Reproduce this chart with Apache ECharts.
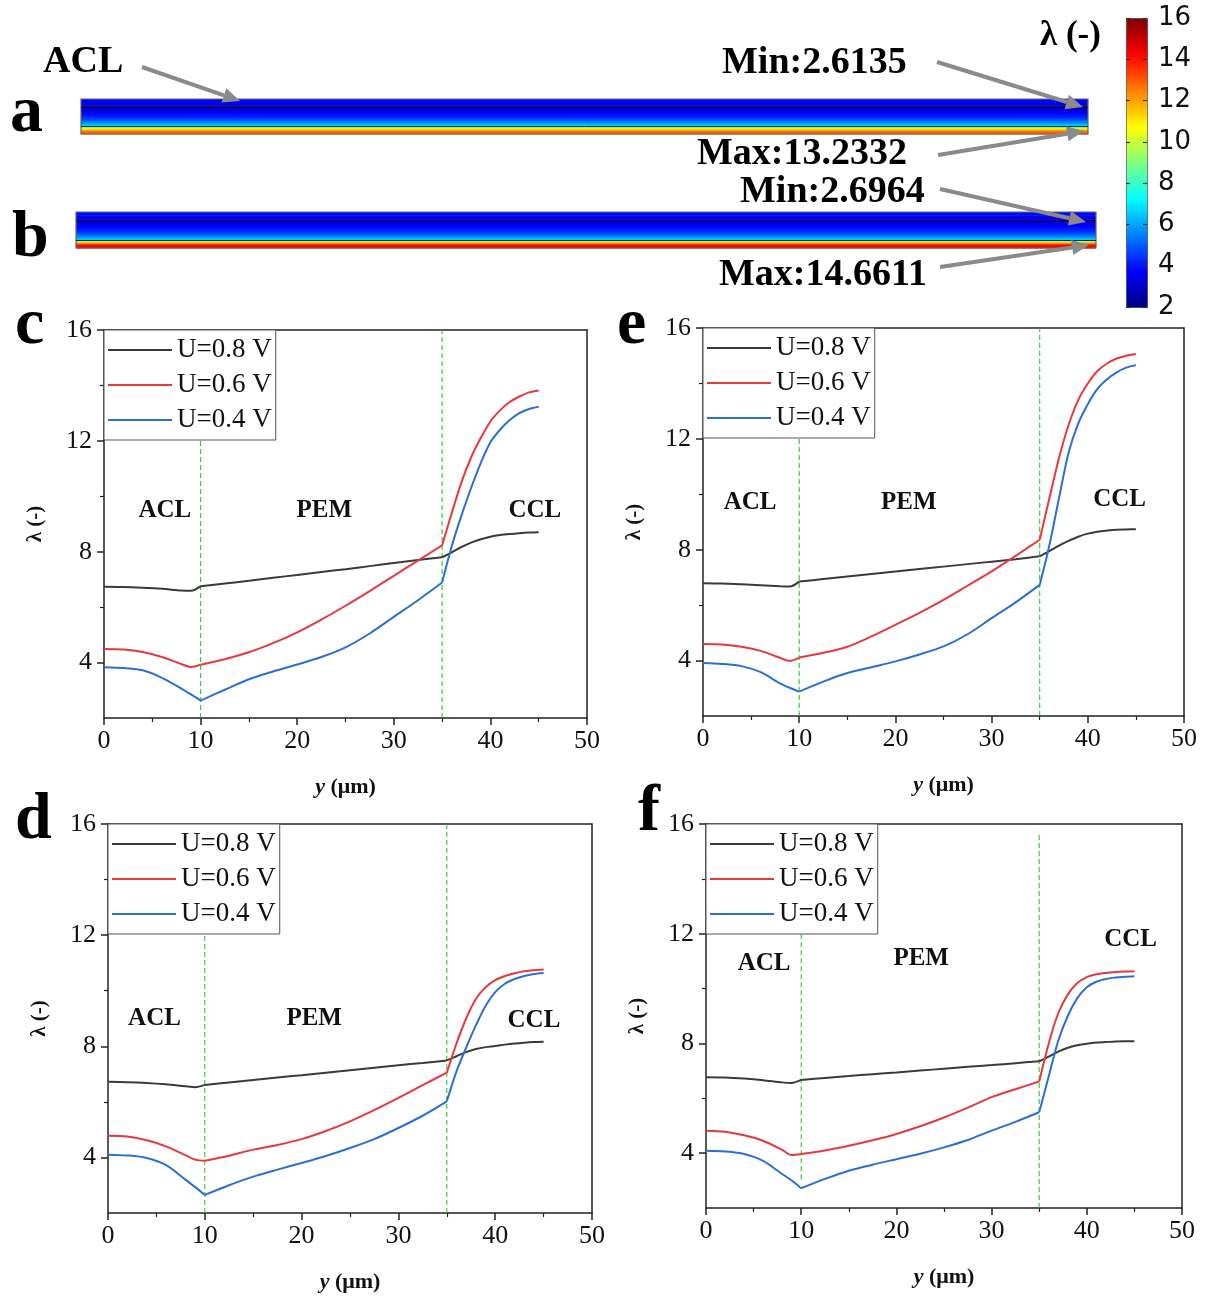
<!DOCTYPE html>
<html>
<head>
<meta charset="utf-8">
<script src="https://cdn.jsdelivr.net/npm/echarts@6/dist/echarts.min.js"></script>
<style>
html, body { margin: 0; padding: 0; background: #fff; }
#main { width: 1206px; height: 1297px; }
</style>
</head>
<body>
<div id="main"></div>
<script>
// position through the membrane electrode assembly, y (um)
var depth = [0, 2, 4, 6, 8, 9, 10, 12.5, 15, 17.5, 20, 22.5, 25, 27.5, 30, 32.5, 35, 36, 37, 38, 39, 40, 41, 42, 43, 44, 45];
var seriesNames = ['U=0.8 V', 'U=0.6 V', 'U=0.4 V'];
var regionNames = ['ACL', 'PEM', 'CCL'];

// panel c
var c08 = [6.74, 6.73, 6.70, 6.66, 6.60, 6.59, 6.75, 6.85, 6.95, 7.06, 7.16, 7.27, 7.37, 7.48, 7.59, 7.70, 7.80, 7.98, 8.17, 8.33, 8.45, 8.54, 8.60, 8.64, 8.67, 8.69, 8.70];
var c06 = [4.49, 4.47, 4.38, 4.20, 3.95, 3.84, 3.92, 4.12, 4.37, 4.70, 5.09, 5.55, 6.05, 6.58, 7.13, 7.68, 8.23, 9.40, 10.50, 11.40, 12.10, 12.70, 13.10, 13.40, 13.60, 13.75, 13.82];
var c04 = [3.83, 3.80, 3.72, 3.45, 3.06, 2.85, 2.63, 3.02, 3.40, 3.68, 3.93, 4.20, 4.55, 5.05, 5.65, 6.25, 6.89, 8.20, 9.30, 10.30, 11.20, 11.95, 12.40, 12.75, 13.00, 13.15, 13.23];
// panel e
var e08 = [6.79, 6.78, 6.75, 6.72, 6.68, 6.67, 6.85, 6.94, 7.03, 7.12, 7.21, 7.30, 7.39, 7.48, 7.57, 7.66, 7.76, 7.95, 8.15, 8.32, 8.47, 8.58, 8.65, 8.69, 8.72, 8.73, 8.74];
var e06 = [4.60, 4.58, 4.50, 4.35, 4.10, 3.99, 4.11, 4.28, 4.50, 4.87, 5.29, 5.72, 6.19, 6.70, 7.22, 7.78, 8.36, 9.85, 11.30, 12.50, 13.40, 14.00, 14.45, 14.72, 14.90, 15.00, 15.06];
var e04 = [3.91, 3.88, 3.80, 3.58, 3.18, 3.02, 2.88, 3.24, 3.55, 3.76, 3.97, 4.22, 4.51, 4.95, 5.53, 6.10, 6.73, 8.15, 9.85, 11.50, 12.55, 13.25, 13.80, 14.15, 14.40, 14.57, 14.66];
// panel d
var d08 = [6.72, 6.71, 6.68, 6.63, 6.56, 6.53, 6.61, 6.70, 6.79, 6.88, 6.96, 7.05, 7.14, 7.23, 7.32, 7.40, 7.49, 7.64, 7.79, 7.90, 7.97, 8.01, 8.06, 8.10, 8.13, 8.15, 8.16];
var d06 = [4.78, 4.75, 4.62, 4.40, 4.08, 3.92, 3.88, 4.06, 4.28, 4.45, 4.66, 4.95, 5.30, 5.70, 6.14, 6.60, 7.05, 8.10, 9.00, 9.70, 10.12, 10.38, 10.53, 10.63, 10.70, 10.74, 10.76];
var d04 = [4.10, 4.07, 3.98, 3.72, 3.20, 2.93, 2.65, 3.00, 3.31, 3.56, 3.80, 4.05, 4.34, 4.66, 5.06, 5.50, 6.02, 7.10, 7.95, 8.75, 9.45, 9.95, 10.25, 10.42, 10.53, 10.60, 10.64];
// panel f
var f08 = [6.77, 6.76, 6.72, 6.66, 6.58, 6.56, 6.67, 6.74, 6.81, 6.88, 6.94, 7.01, 7.08, 7.15, 7.21, 7.28, 7.35, 7.52, 7.70, 7.84, 7.93, 7.99, 8.03, 8.05, 8.07, 8.08, 8.08];
var f06 = [4.82, 4.78, 4.65, 4.45, 4.12, 3.93, 3.97, 4.10, 4.27, 4.47, 4.70, 4.98, 5.30, 5.66, 6.04, 6.33, 6.61, 8.00, 9.10, 9.78, 10.20, 10.42, 10.52, 10.57, 10.60, 10.62, 10.63];
var f04 = [4.09, 4.06, 3.97, 3.72, 3.24, 3.00, 2.72, 3.06, 3.36, 3.58, 3.78, 3.98, 4.21, 4.48, 4.82, 5.14, 5.49, 6.80, 8.10, 9.00, 9.65, 10.05, 10.25, 10.35, 10.40, 10.43, 10.45];

var yMajorTicks = [4, 8, 12, 16];
var yMinorTicks = [6, 10, 14];
var layerBounds = [10, 35];
var stripLabels = ['Min:2.6135', 'Max:13.2332', 'Min:2.6964', 'Max:14.6611'];

var serif = '"Liberation Serif", "Times New Roman", serif';
var lineColors = ['#3a3a3a', '#e8383d', '#2a6fd6'];
var boundColor = '#22cc22';
var jet = ['#00007f', '#0000ff', '#007fff', '#00ffff', '#7fff7f', '#ffff00', '#ff7f00', '#ff0000', '#7f0000'];
var lamMin = 2, lamMax = 16;

var panels = [
    { letter: 'c', lx: 15, ly: 359, data: [c08, c06, c04], grid: { left: 104, top: 330, width: 483, height: 388 },
      labelPos: [[6.3, 9.47], [22.8, 9.47], [44.6, 9.5]], boundSpan: [[2, 16], [2, 16]] },
    { letter: 'e', lx: 617, ly: 359, data: [e08, e06, e04], grid: { left: 703, top: 328, width: 481, height: 388 },
      labelPos: [[4.9, 9.7], [21.4, 9.7], [43.3, 9.8]], boundSpan: [[2, 16], [2, 16]] },
    { letter: 'd', lx: 15, ly: 854, data: [d08, d06, d04], grid: { left: 108, top: 824, width: 484, height: 389 },
      labelPos: [[4.8, 9.0], [21.3, 9.0], [44.0, 8.94]], boundSpan: [[2, 16], [2, 16]] },
    { letter: 'f', lx: 638, ly: 846, data: [f08, f06, f04], grid: { left: 706, top: 824, width: 476, height: 384 },
      labelPos: [[6.1, 10.9], [22.6, 11.1], [44.6, 11.8]], boundSpan: [[3.05, 16], [2, 15.7]] }
];

// the two contour strips (a: panel c, b: panel e at U=0.4 V)
var strips = [
    { values: c04, grid: { left: 81, top: 99, width: 1007, height: 35 } },
    { values: e04, grid: { left: 76, top: 212, width: 1020, height: 36 } }
];

var axisCol = '#222';
var option = {
    animation: false,
    backgroundColor: '#fff',
    grid: [], xAxis: [], yAxis: [], series: [], legend: [], graphic: []
};

// split a curve at the layer interfaces so the kinks there stay sharp
function segments(vals) {
    var cut = layerBounds.map(function (b) { return depth.indexOf(b); });
    var ranges = [[0, cut[0]], [cut[0], cut[1]], [cut[1], depth.length - 1]];
    return ranges.map(function (r) {
        var out = [];
        for (var k = r[0]; k <= r[1]; k++) out.push([depth[k], vals[k]]);
        return out;
    });
}

panels.forEach(function (p, i) {
    option.grid.push(Object.assign({ show: false, outerBoundsMode: 'none' }, p.grid));
    var xi = option.xAxis.length, yi = option.yAxis.length;
    option.xAxis.push({
        gridIndex: i, type: 'value', min: 0, max: 50, interval: 10, position: 'bottom',
        axisLine: { onZero: false, lineStyle: { color: axisCol, width: 1.5 } },
        axisTick: { length: 7, lineStyle: { color: axisCol, width: 1.5 } },
        minorTick: { show: true, splitNumber: 2, length: 4, lineStyle: { color: axisCol, width: 1.2 } },
        splitLine: { show: false },
        axisLabel: { fontFamily: serif, fontSize: 26, color: '#111', margin: 10 },
        name: '{i|y} (μm)', nameLocation: 'middle', nameGap: 58,
        nameTextStyle: { fontFamily: serif, fontWeight: 'bold', fontSize: 22, color: '#111',
            rich: { i: { fontFamily: serif, fontWeight: 'bold', fontStyle: 'italic', fontSize: 22, color: '#111' } } }
    });
    option.xAxis.push({
        gridIndex: i, type: 'value', min: 0, max: 50, position: 'top',
        axisLine: { onZero: false, lineStyle: { color: axisCol, width: 1.5 } },
        axisTick: { show: false }, axisLabel: { show: false }, splitLine: { show: false }
    });
    option.yAxis.push({
        gridIndex: i, type: 'value', min: 2, max: 16, interval: 2, position: 'left',
        axisLine: { show: true, onZero: false, lineStyle: { color: axisCol, width: 1.5 } },
        axisTick: { show: true, customValues: yMajorTicks, length: 7, lineStyle: { color: axisCol, width: 1.5 } },
        axisLabel: { customValues: yMajorTicks, fontFamily: serif, fontSize: 26, color: '#111', margin: 12 },
        splitLine: { show: false },
        name: 'λ (-)', nameLocation: 'middle', nameRotate: 90, nameGap: 58,
        nameTextStyle: { fontFamily: serif, fontWeight: 'bold', fontSize: 21, color: '#111' }
    });
    option.yAxis.push({
        gridIndex: i, type: 'value', min: 2, max: 16, interval: 2, position: 'left',
        axisLine: { show: false, onZero: false },
        axisTick: { show: true, customValues: yMinorTicks, length: 4, lineStyle: { color: axisCol, width: 1.2 } },
        axisLabel: { show: false }, splitLine: { show: false }
    });
    option.yAxis.push({
        gridIndex: i, type: 'value', min: 2, max: 16, position: 'right',
        axisLine: { show: true, onZero: false, lineStyle: { color: axisCol, width: 1.5 } },
        axisTick: { show: false }, axisLabel: { show: false }, splitLine: { show: false }
    });

    // dashed layer interfaces
    layerBounds.forEach(function (b, k) {
        option.series.push({
            name: 'interface', type: 'line', xAxisIndex: xi, yAxisIndex: yi, silent: true, z: 2,
            data: [[b, p.boundSpan[k][0]], [b, p.boundSpan[k][1]]], symbol: 'none',
            lineStyle: { color: boundColor, width: 1.1, type: [5, 3] },
            itemStyle: { color: boundColor }
        });
    });

    // layer names
    option.series.push({
        name: 'layers', type: 'line', xAxisIndex: xi, yAxisIndex: yi, data: [], silent: true, z: 2,
        markPoint: {
            silent: true, symbol: 'circle', symbolSize: 0,
            label: { show: true, position: 'inside', formatter: '{b}', fontFamily: serif,
                fontWeight: 'bold', fontSize: 25, color: '#111' },
            data: regionNames.map(function (n, k) { return { name: n, coord: p.labelPos[k] }; })
        }
    });

    p.data.forEach(function (vals, s) {
        segments(vals).forEach(function (seg) {
            option.series.push({
                name: seriesNames[s], type: 'line', xAxisIndex: xi, yAxisIndex: yi,
                data: seg, symbol: 'none', smooth: 0.3,
                lineStyle: { color: lineColors[s], width: 2 },
                itemStyle: { color: lineColors[s] }, z: 3
            });
        });
    });

    option.legend.push({
        left: p.grid.left, top: p.grid.top, orient: 'vertical', data: seriesNames,
        icon: 'rect', itemWidth: 64, itemHeight: 2, itemGap: 5, padding: [5, 4, 5, 4],
        backgroundColor: '#fff', borderColor: '#555', borderWidth: 1, borderRadius: 0,
        selectedMode: false, z: 6,
        textStyle: { fontFamily: serif, fontSize: 27, color: '#111', lineHeight: 30 }
    });

    option.graphic.push({
        type: 'text', x: p.lx, y: p.ly,
        style: { text: p.letter, font: 'bold 66px ' + serif, fill: '#000',
            textAlign: 'left', textVerticalAlign: 'bottom', align: 'left', verticalAlign: 'bottom' }
    });
});

function jetAt(v) {
    return echarts.color.lerp((v - lamMin) / (lamMax - lamMin), jet);
}

var stripSeries = [];
strips.forEach(function (st, j) {
    var gi = option.grid.length;
    option.grid.push(Object.assign({ show: true, z: 3, borderColor: '#666', borderWidth: 1.2,
        backgroundColor: 'transparent', outerBoundsMode: 'none' }, st.grid));
    var xi = option.xAxis.length, yi = option.yAxis.length;
    option.xAxis.push({ gridIndex: gi, type: 'value', min: 0, max: 1, show: false });
    option.yAxis.push({ gridIndex: gi, type: 'value', min: 0, max: 45, inverse: true, show: false });
    var cells = [];
    for (var k = 0; k < depth.length - 1; k++) {
        cells.push([depth[k], depth[k + 1], st.values[k], st.values[k + 1]]);
    }
    stripSeries.push(option.series.length);
    option.series.push({
        type: 'custom', xAxisIndex: xi, yAxisIndex: yi, silent: true, data: cells,
        renderItem: function (params, api) {
            var a = api.coord([0, api.value(0)]);
            var b = api.coord([1, api.value(1)]);
            return {
                type: 'rect',
                shape: { x: a[0], y: a[1], width: b[0] - a[0], height: b[1] - a[1] + 0.6 },
                style: { fill: new echarts.graphic.LinearGradient(0, 0, 0, 1, [
                    { offset: 0, color: jetAt(api.value(2)) },
                    { offset: 1, color: jetAt(api.value(3)) }
                ]) }
            };
        },
        markLine: {
            silent: true, symbol: ['none', 'none'], label: { show: false },
            lineStyle: { type: 'solid', color: '#111', width: 1, opacity: 0.85 },
            data: layerBounds.map(function (b) { return { yAxis: b }; })
        }
    });
});

// colour bar with its own axis for the tick labels
var cbGrid = { left: 1126, top: 18, width: 21, height: 289 };
var cbi = option.grid.length;
option.grid.push(Object.assign({ show: false, outerBoundsMode: 'none' }, cbGrid));
option.xAxis.push({ gridIndex: cbi, type: 'value', min: 0, max: 1, show: false });
option.yAxis.push({
    gridIndex: cbi, type: 'value', min: lamMin, max: lamMax, interval: 2, position: 'right', z: 8,
    axisLine: { show: false, onZero: false },
    axisTick: { inside: true, length: 4, lineStyle: { color: '#333', width: 1.2 } },
    axisLabel: { fontFamily: '"DejaVu Sans", sans-serif', fontSize: 26, color: '#111', margin: 11 },
    splitLine: { show: false }
});
option.yAxis.push({
    gridIndex: cbi, type: 'value', min: lamMin, max: lamMax, interval: 2, position: 'left', z: 8,
    axisLine: { show: false, onZero: false },
    axisTick: { inside: true, length: 4, lineStyle: { color: '#333', width: 1.2 } },
    axisLabel: { show: false }, splitLine: { show: false }
});
option.visualMap = [{
    type: 'continuous', min: lamMin, max: lamMax, dimension: 2, seriesIndex: stripSeries,
    calculable: false, realtime: false, show: true, hoverLink: false,
    left: cbGrid.left, top: cbGrid.top, itemWidth: cbGrid.width, itemHeight: cbGrid.height,
    padding: 0, borderColor: '#444', borderWidth: 1, text: null, showLabel: false,
    inRange: { color: jet }
}];

// annotations of the contour strips
function arrow(x1, y1, x2, y2) {
    var ang = Math.atan2(y2 - y1, x2 - x1), L = 17, W = 7.5;
    var c = Math.cos(ang), s = Math.sin(ang);
    var bx = x2 - L * c, by = y2 - L * s;
    return [
        { type: 'line', z: 20, shape: { x1: x1, y1: y1, x2: bx, y2: by }, style: { stroke: '#8a8a8a', lineWidth: 4 } },
        { type: 'polygon', z: 20, shape: { points: [[x2, y2], [bx - W * s, by + W * c], [bx + W * s, by - W * c]] },
          style: { fill: '#8a8a8a' } }
    ];
}
function label(txt, x, y, size) {
    return { type: 'text', x: x, y: y, z: 20,
        style: { text: txt, font: 'bold ' + size + 'px ' + serif, fill: '#000',
            textAlign: 'left', textVerticalAlign: 'middle', align: 'left', verticalAlign: 'middle' } };
}
option.graphic = option.graphic.concat(
    arrow(142, 67, 240, 101),
    arrow(937, 62, 1083, 107),
    arrow(938, 155, 1084, 131),
    arrow(940, 189, 1086, 222),
    arrow(940, 267, 1089, 245),
    [
        label('ACL', 43, 62, 38),
        label(stripLabels[0], 722, 63, 38),
        label(stripLabels[1], 697, 154, 38),
        label(stripLabels[2], 740, 192, 38),
        label(stripLabels[3], 719, 275, 38),
        label('λ (-)', 1040, 36, 35),
        { type: 'text', x: 10, y: 147, z: 20, style: { text: 'a', font: 'bold 66px ' + serif, fill: '#000',
            textAlign: 'left', textVerticalAlign: 'bottom', align: 'left', verticalAlign: 'bottom' } },
        { type: 'text', x: 12, y: 272, z: 20, style: { text: 'b', font: 'bold 66px ' + serif, fill: '#000',
            textAlign: 'left', textVerticalAlign: 'bottom', align: 'left', verticalAlign: 'bottom' } }
    ]
);

var myChart = echarts.init(document.getElementById('main'));
myChart.setOption(option);
</script>
</body>
</html>
